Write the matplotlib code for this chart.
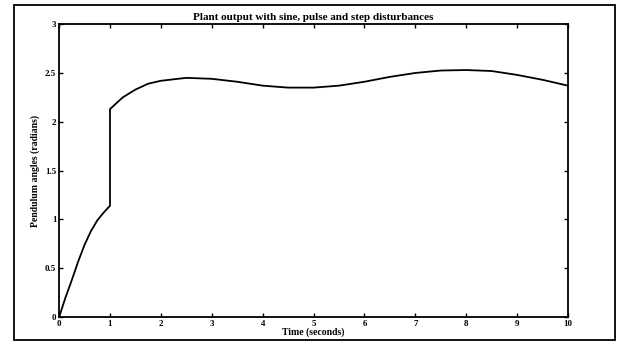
import matplotlib.pyplot as plt
from matplotlib.patches import Rectangle

# time (s) and pendulum angle (rad)
tiempo = [0, 0.125, 0.25, 0.375, 0.5, 0.625, 0.75, 0.875, 1.0,
          1.0, 1.25, 1.5, 1.75, 2.0, 2.5, 3.0, 3.5, 4.0, 4.5, 5.0,
          5.5, 6.0, 6.5, 7.0, 7.5, 8.0, 8.5, 9.0, 9.5, 10.0]
angulo = [0.0, 0.2, 0.38, 0.57, 0.74, 0.88, 0.99, 1.07, 1.14,
          2.13, 2.25, 2.33, 2.39, 2.42, 2.45, 2.44, 2.41, 2.37, 2.35, 2.35,
          2.37, 2.41, 2.46, 2.50, 2.525, 2.53, 2.52, 2.48, 2.43, 2.37]

xticks = list(range(0, 11))
yticks = [0, 0.5, 1, 1.5, 2, 2.5, 3]
ytick_labels = ["0", "0.5", "1", "1.5", "2", "2.5", "3"]

plt.rcParams['font.family'] = ['Liberation Serif', 'DejaVu Serif']

fig = plt.figure(figsize=(6.29, 3.45), dpi=100)
ax = fig.add_axes([0.094, 0.081, 0.809, 0.849])

ax.plot(tiempo, angulo, color='black', linewidth=1.3)
ax.set_xlim(0, 10)
ax.set_ylim(0, 3)
ax.set_xticks(xticks)
ax.set_xticklabels([str(v) for v in xticks], fontsize=6.5, fontweight='bold')
ax.set_yticks(yticks)
ax.set_yticklabels(ytick_labels, fontsize=6.5, fontweight='bold')
ax.tick_params(direction='in', top=True, right=True, length=3, width=1, pad=2)
for s in ax.spines.values():
    s.set_linewidth(1.3)

ax.set_title("Plant output with sine, pulse and step disturbances",
             fontsize=8, fontweight='bold', pad=3)
ax.set_xlabel("Time (seconds)", fontsize=7, fontweight='bold', labelpad=0)
ax.set_ylabel("Pendulum angles (radians)", fontsize=7, fontweight='bold', labelpad=4)

# outer frame of the scanned figure
fig.patches.append(Rectangle((0.022, 0.015), 0.955, 0.97, transform=fig.transFigure,
                             fill=False, edgecolor='black', linewidth=1.3))

plt.savefig("out.png", dpi=100)
